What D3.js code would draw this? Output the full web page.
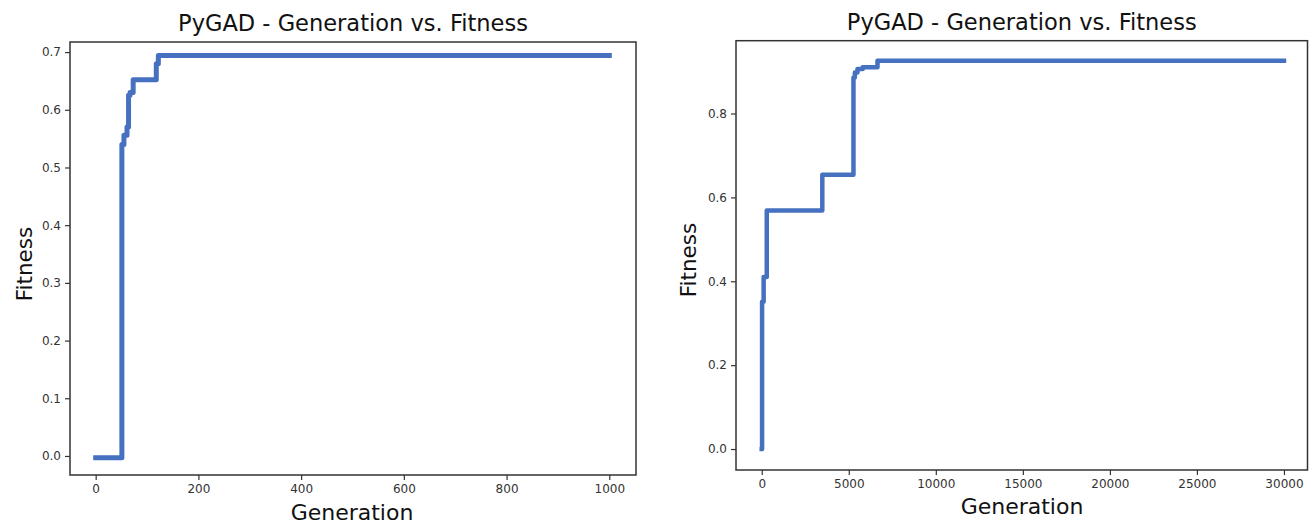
<!DOCTYPE html>
<html><head><meta charset="utf-8">
<script src="https://cdn.jsdelivr.net/npm/d3@7"></script>
<style>
html,body{margin:0;padding:0;background:#fff;}
svg{display:block;font-family:"DejaVu Sans",sans-serif;}
</style></head>
<body>
<svg id="chart" width="1309" height="524"></svg>
<script>
// ---- data ----
const titleText = "PyGAD - Generation vs. Fitness";
const xLabel = "Generation";
const yLabel = "Fitness";

// left run: generation where fitness changes, and the fitness from there on
const leftGenerations = [0, 51, 55, 61, 64, 67, 73, 118, 122, 1000];
const leftFitness     = [-0.003, 0.54, 0.556, 0.57, 0.625, 0.63, 0.652, 0.68, 0.694, 0.694];
const leftXTicks = [0, 200, 400, 600, 800, 1000];
const leftYTicks = [0.0, 0.1, 0.2, 0.3, 0.4, 0.5, 0.6, 0.7];

// right run
const rightGenerations = [0, 20, 110, 290, 3480, 5270, 5350, 5500, 5800, 6650, 30000];
const rightFitness     = [0.0, 0.351, 0.41, 0.569, 0.654, 0.886, 0.898, 0.906, 0.910, 0.926, 0.926];
const rightXTicks = [0, 5000, 10000, 15000, 20000, 25000, 30000];
const rightYTicks = [0.0, 0.2, 0.4, 0.6, 0.8];

const lineColor = "#4670c0";
const svg = d3.select("#chart");

function panel(opt) {
  const x = d3.scaleLinear().domain(opt.xDomain).range([opt.left, opt.right]);
  const y = d3.scaleLinear().domain(opt.yDomain).range([opt.bottom, opt.top]);
  const g = svg.append("g");

  const pts = opt.gens.map((gen, i) => [gen, opt.fit[i]]);
  g.append("path")
    .datum(pts)
    .attr("fill", "none")
    .attr("stroke", lineColor)
    .attr("stroke-width", opt.lw)
    .attr("stroke-linecap", "square")
    .attr("stroke-linejoin", "round")
    .attr("d", d3.line().x(d => x(d[0])).y(d => y(d[1])).curve(d3.curveStepAfter));

  // frame
  g.append("rect")
    .attr("x", opt.left).attr("y", opt.top)
    .attr("width", opt.right - opt.left).attr("height", opt.bottom - opt.top)
    .attr("fill", "none").attr("stroke", "#333").attr("stroke-width", 1.5);

  const xa = g.append("g").attr("transform", `translate(0,${opt.bottom})`)
    .call(d3.axisBottom(x).tickValues(opt.xTicks).tickSize(5).tickPadding(4).tickFormat(d3.format("d")));
  const ya = g.append("g").attr("transform", `translate(${opt.left},0)`)
    .call(d3.axisLeft(y).tickValues(opt.yTicks).tickSize(5).tickPadding(4).tickFormat(d3.format(".1f")));
  [xa, ya].forEach(a => {
    a.select(".domain").remove();
    a.selectAll(".tick line").attr("stroke", "#333").attr("stroke-width", 1.2);
    a.selectAll(".tick text").attr("fill", "#333").style("font-size", "12px")
      .style("font-family", '"DejaVu Sans",sans-serif');
  });

  const t = g.append("text").text(titleText)
    .attr("x", (opt.left + opt.right) / 2).attr("y", opt.titleY)
    .attr("text-anchor", "middle").attr("fill", "#111").style("font-size", "20px");
  const w = t.node().getComputedTextLength();
  t.style("font-size", (20 * opt.titleW / w).toFixed(2) + "px");

  g.append("text").text(xLabel)
    .attr("x", opt.xLabelX).attr("y", opt.xLabelY)
    .attr("text-anchor", "middle").attr("fill", "#111").style("font-size", "22px");

  g.append("text").text(yLabel)
    .attr("transform", `translate(${opt.yLabelX},${opt.yLabelY}) rotate(-90)`)
    .attr("text-anchor", "middle").attr("fill", "#111").style("font-size", "21.5px");
}

panel({
  gens: leftGenerations, fit: leftFitness, xTicks: leftXTicks, yTicks: leftYTicks,
  xDomain: [-50, 1052], yDomain: [-0.033, 0.7175],
  left: 70, right: 636, top: 42, bottom: 475, lw: 5,
  titleY: 31, titleW: 350, xLabelX: 352, xLabelY: 520, yLabelX: 32, yLabelY: 264
});

panel({
  gens: rightGenerations, fit: rightFitness, xTicks: rightXTicks, yTicks: rightYTicks,
  xDomain: [-1478, 31352], yDomain: [-0.05, 0.9736],
  left: 736, right: 1307.5, top: 40.7, bottom: 470, lw: 4.5,
  titleY: 30, titleW: 350, xLabelX: 1022, xLabelY: 514, yLabelX: 696, yLabelY: 260
});
</script>
</body></html>
